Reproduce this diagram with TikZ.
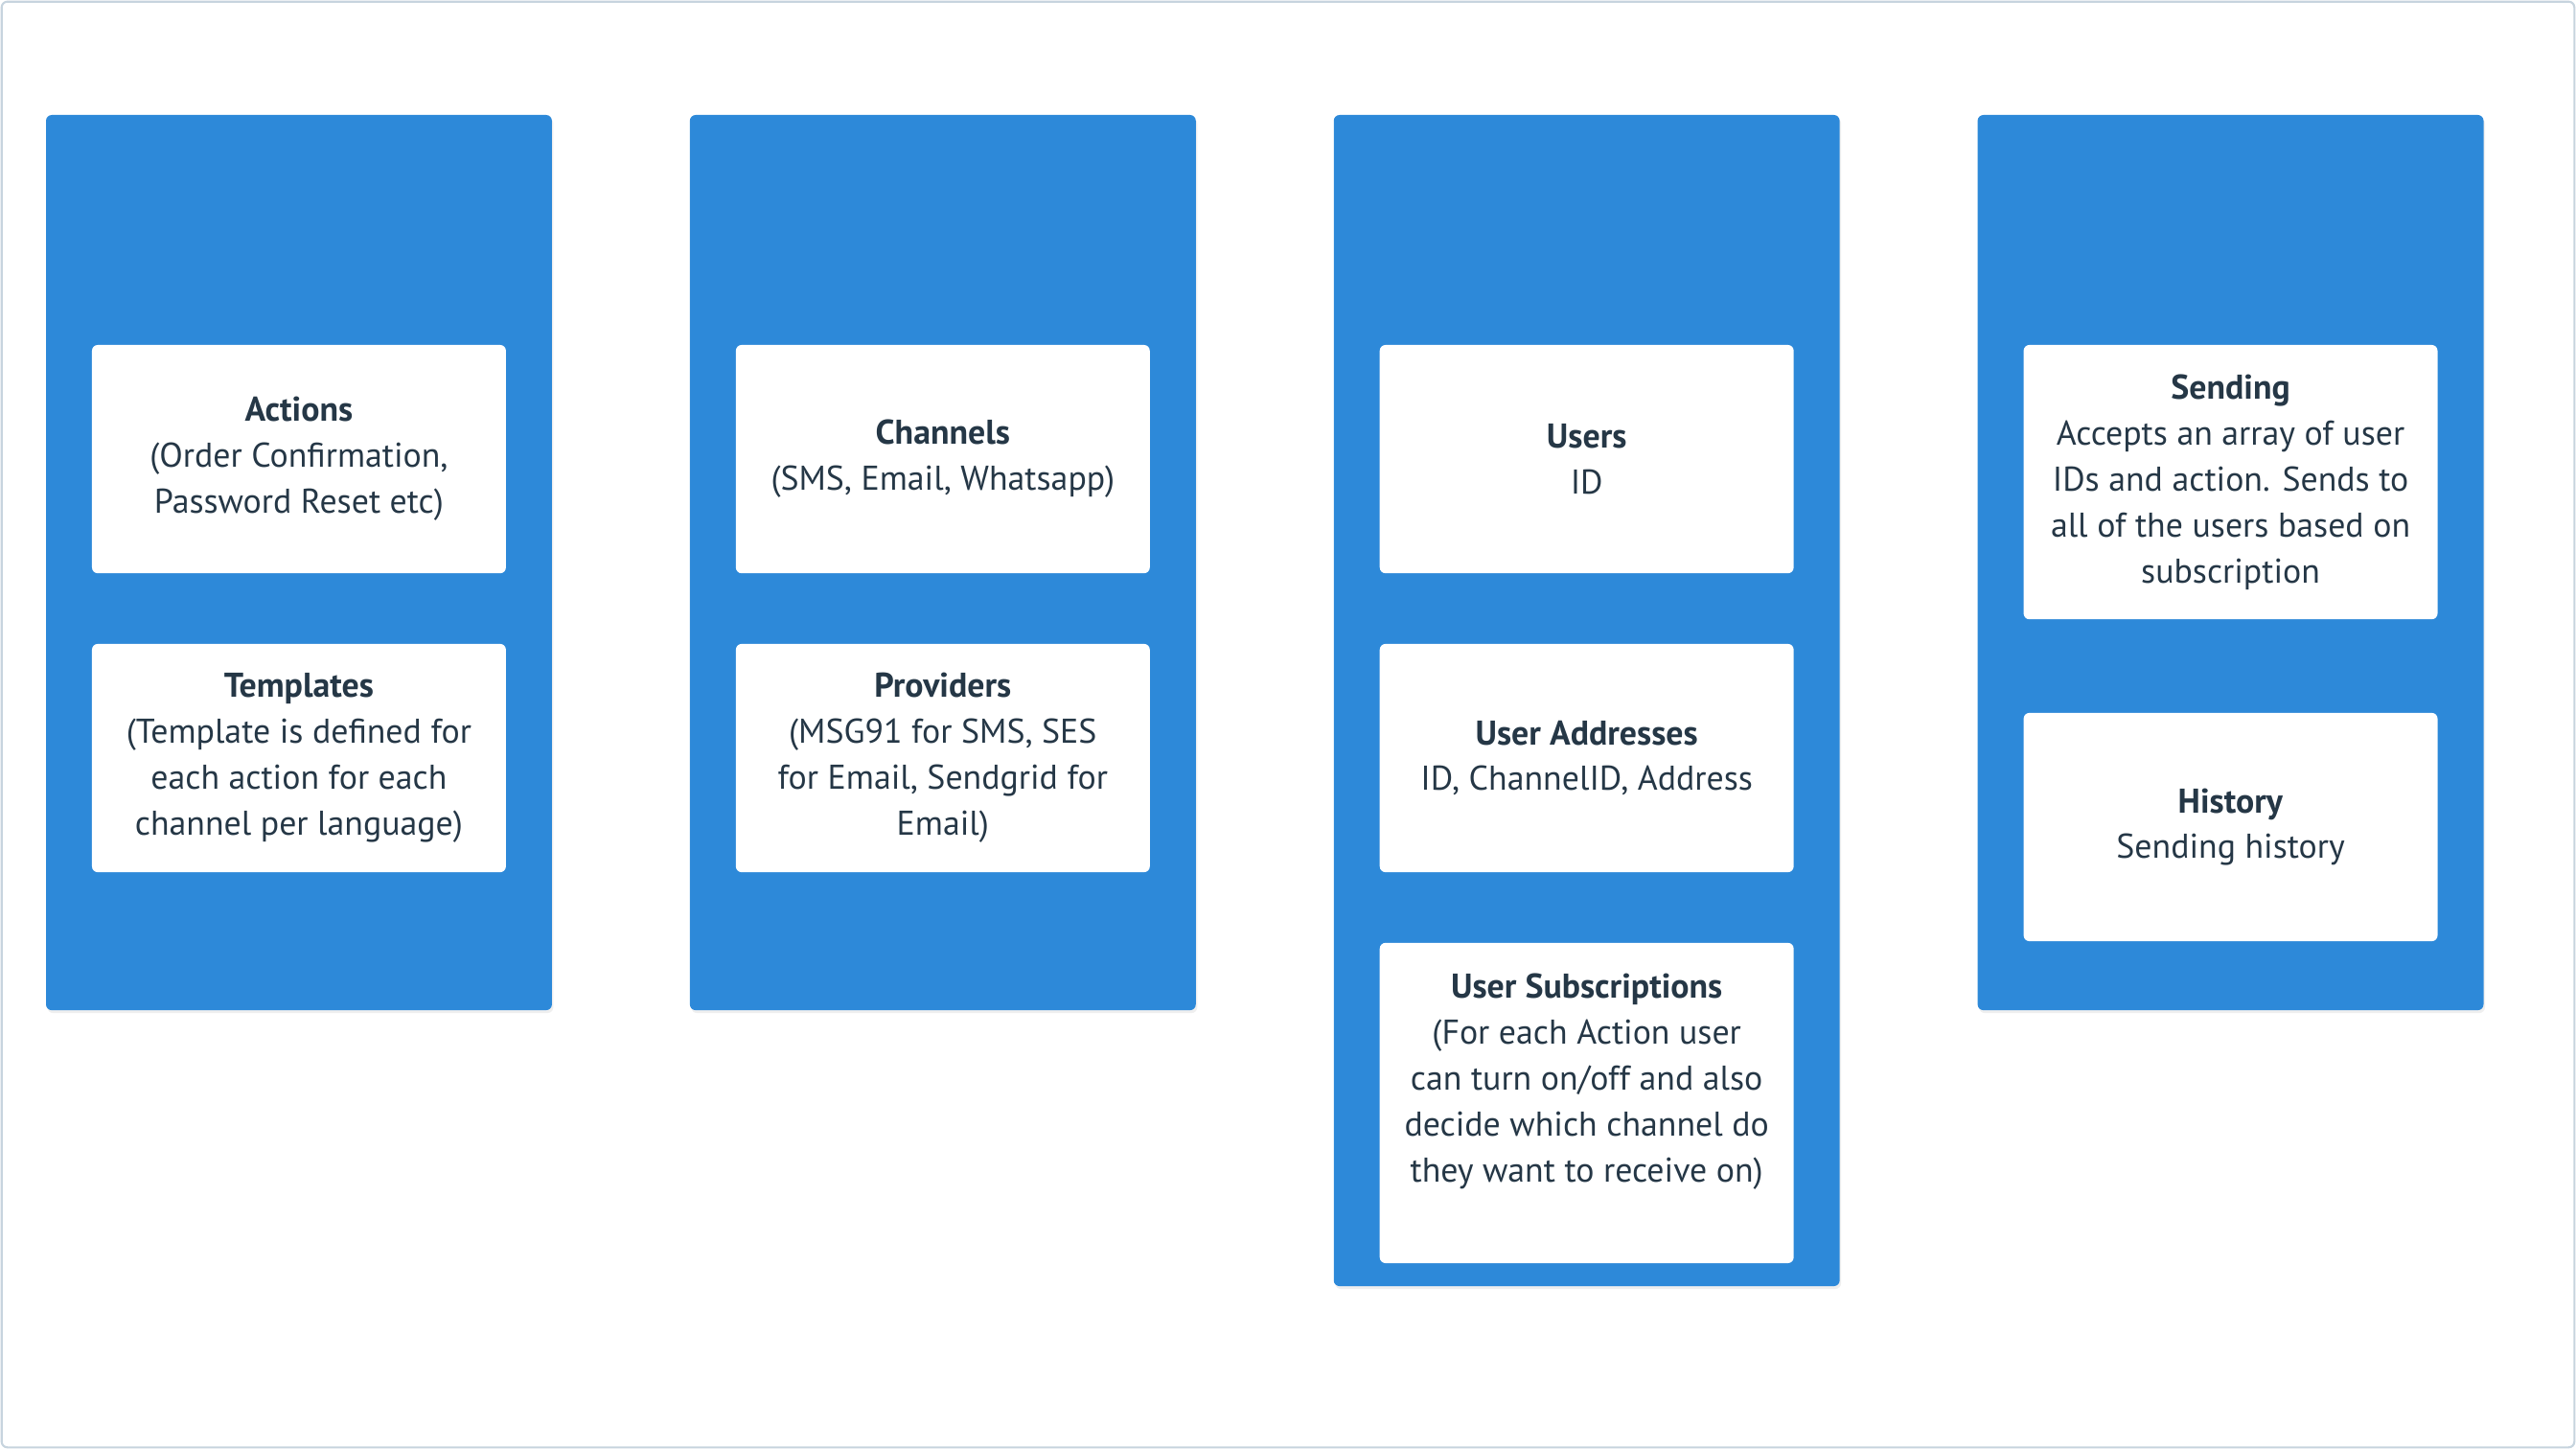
\documentclass[tikz,border=0pt]{standalone}
\usepackage{fontspec}
\setmainfont{PT Sans}
\usepackage{xcolor}
\usetikzlibrary{positioning,shadows}
\definecolor{panelblue}{HTML}{2D89D9}
\definecolor{textnavy}{HTML}{253746}
\definecolor{frameline}{HTML}{C7D4DE}

\begin{document}
\begin{tikzpicture}[x=0.02cm,y=-0.02cm,
    panel/.style={fill=panelblue,rounded corners=2pt,inner sep=0pt,outer sep=0pt,minimum width=6.16cm,
        drop shadow={opacity=0.12,shadow xshift=0.5pt,shadow yshift=-1pt}},
    card/.style={fill=white,rounded corners=2pt,inner sep=0pt,outer sep=0pt,minimum width=5.04cm,
        align=center,text=textnavy,font=\fontsize{11.9}{15.9}\selectfont},
    cardtext/.style={inner sep=0pt,outer sep=0pt,align=center,text=textnavy,font=\fontsize{11.9}{15.9}\selectfont}]
    \useasboundingbox (0,0) rectangle (1568,882);
    \fill[white] (0,0) rectangle (1568,882);
    \draw[frameline,line width=0.7pt,rounded corners=2pt] (1,1) rectangle (1567,881);

    % columns
    \node[panel,minimum height=10.9cm,anchor=north west] (actpanel) at (28,70) {};
    \node[panel,minimum height=10.9cm,right=1.68cm of actpanel.north east,anchor=north west] (chanpanel) {};
    \node[panel,minimum height=14.26cm,right=1.68cm of chanpanel.north east,anchor=north west] (userpanel) {};
    \node[panel,minimum height=10.9cm,right=1.68cm of userpanel.north east,anchor=north west] (sendpanel) {};

    % actions / templates
    \node[card,minimum height=2.78cm,below right=2.8cm and 0.56cm of actpanel.north west] (actions)
        {\textbf{Actions}\\(Order Confirmation,\\Password Reset etc)};
    \node[card,minimum height=2.78cm,below=0.86cm of actions] (templates)
        {\textbf{Templates}\\(Template is defined for\\each action for each\\channel per language)};

    % channels / providers
    \node[card,minimum height=2.78cm,below right=2.8cm and 0.56cm of chanpanel.north west] (channels)
        {\textbf{Channels}\\(SMS, Email, Whatsapp)};
    \node[card,minimum height=2.78cm,below=0.86cm of channels] (providers)
        {\textbf{Providers}\\(MSG91 for SMS, SES\\for Email, Sendgrid for\\Email)};

    % users
    \node[card,minimum height=2.78cm,below right=2.8cm and 0.56cm of userpanel.north west] (users)
        {\textbf{Users}\\ID};
    \node[card,minimum height=2.78cm,below=0.86cm of users] (addresses)
        {\textbf{User Addresses}\\ID, ChannelID, Address};
    \node[card,minimum height=3.9cm,below=0.86cm of addresses] (subs) {};
    \node[cardtext,below=0.38cm of subs.north] (substext)
        {\textbf{User Subscriptions}\\(For each Action user\\can turn on/off and also\\decide which channel do\\they want to receive on)};

    % sending / history
    \node[card,minimum height=3.34cm,below right=2.8cm and 0.56cm of sendpanel.north west] (sending)
        {\textbf{Sending}\\Accepts an array of user\\IDs and action. Sends to\\all of the users based on\\subscription};
    \node[card,minimum height=2.78cm,below=1.14cm of sending] (history)
        {\textbf{History}\\Sending history};
\end{tikzpicture}
\end{document}
